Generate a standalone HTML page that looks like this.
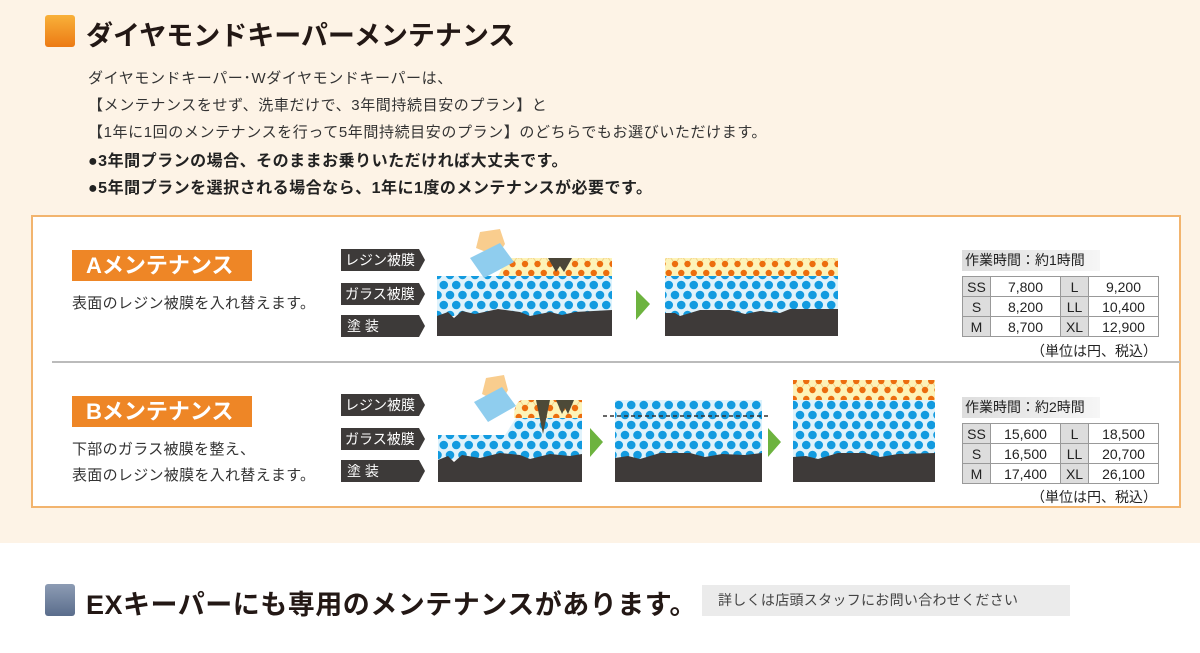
<!DOCTYPE html>
<html><head><meta charset="utf-8"><style>
*{margin:0;padding:0;box-sizing:border-box}
body{width:1200px;height:653px;overflow:hidden;background:#fff;font-family:"Liberation Sans","Noto Sans CJK JP",sans-serif;position:relative;color:#333}
.top{position:absolute;left:0;top:0;width:1200px;height:543px;background:#fdf3e6}
.abs{position:absolute;white-space:nowrap}
.sq{position:absolute;width:30px;height:32px;border-radius:3px}
.h1{font-size:27px;font-weight:bold;color:#231815}
.p{font-size:15px;color:#333;left:88px;letter-spacing:0.6px}
.b{font-weight:bold;color:#222;font-size:16px;letter-spacing:0.5px}
.box{position:absolute;left:31px;top:215px;width:1150px;height:293px;border:2px solid #f2b46e;background:#fff}
.tag{position:absolute;left:72px;width:180px;height:31px;background:#ee8626;color:#fff;font-weight:bold;font-size:22px;line-height:31px;padding-left:14px}
.d{font-size:15px;color:#333;left:72px;letter-spacing:0.3px}
table{position:absolute;left:962px;border-collapse:collapse;font-size:14px;color:#222}
td{border:1px solid #999;height:20px;padding:0;text-align:center;line-height:18px}
td.k{background:#ddd;width:28px}
td.v{width:70px}
.tt{position:absolute;left:962px;width:138px;height:21px;background:linear-gradient(90deg,#ddd,#f6f6f6);font-size:14px;line-height:21px;padding-left:3px;color:#222}
.note{font-size:14px;color:#222;right:43px}
</style></head><body>
<div class="top"></div>
<div class="sq" style="left:45px;top:15px;background:linear-gradient(#f8b13a,#ec7a14)"></div>
<div class="abs h1" style="left:86px;top:14px">ダイヤモンドキーパーメンテナンス</div>
<div class="abs p" style="top:67px">ダイヤモンドキーパー･Wダイヤモンドキーパーは、</div>
<div class="abs p" style="top:94px">【メンテナンスをせず、洗車だけで、3年間持続目安のプラン】と</div>
<div class="abs p" style="top:121px">【1年に1回のメンテナンスを行って5年間持続目安のプラン】のどちらでもお選びいただけます。</div>
<div class="abs p b" style="top:147px">●3年間プランの場合、そのままお乗りいただければ大丈夫です。</div>
<div class="abs p b" style="top:174px">●5年間プランを選択される場合なら、1年に1度のメンテナンスが必要です。</div>

<div class="box"></div>
<div style="position:absolute;left:52px;top:361px;width:1128px;height:2px;background:#bbb"></div>
<div class="tag" style="top:250px">Aメンテナンス</div>
<div class="abs d" style="top:292px">表面のレジン被膜を入れ替えます。</div>
<div class="tag" style="top:396px">Bメンテナンス</div>
<div class="abs d" style="top:438px">下部のガラス被膜を整え、</div>
<div class="abs d" style="top:464px">表面のレジン被膜を入れ替えます。</div>

<svg class="abs" style="left:0;top:0" width="1200" height="653">
<defs>
<pattern id="bd" width="12.5" height="20" patternUnits="userSpaceOnUse">
<rect width="12.5" height="20" fill="#dff2fb"/>
<circle cx="6.25" cy="5" r="4.3" fill="#129be0"/><circle cx="0" cy="15" r="4.3" fill="#129be0"/><circle cx="12.5" cy="15" r="4.3" fill="#129be0"/>
</pattern>
<pattern id="od" width="12.5" height="18" patternUnits="userSpaceOnUse" y="-1">
<rect width="12.5" height="18" fill="#fdf3b8"/>
<path d="M0 13 L6.25 4 L12.5 13" stroke="#f0d48a" fill="none" stroke-width="1"/>
<circle cx="6.25" cy="4" r="3.2" fill="#ec6d0e"/><circle cx="0" cy="13" r="3.2" fill="#ec6d0e"/><circle cx="12.5" cy="13" r="3.2" fill="#ec6d0e"/>
</pattern>
<g id="tags">
<path d="M0 0 H78 L84 11 L78 22 H0Z" fill="#3d3a39"/>
<path d="M0 34 H78 L84 45 L78 56 H0Z" fill="#3d3a39"/>
<path d="M0 66 H78 L84 77 L78 88 H0Z" fill="#3d3a39"/>
<g fill="#fff" font-size="14">
<text x="4" y="16">レジン被膜</text><text x="4" y="50">ガラス被膜</text><text x="6" y="82">塗 装</text></g>
</g>
</defs>
<use href="#tags" x="341" y="249"/>
<use href="#tags" x="341" y="394"/>

<path d="M507 258 H612 V276 H498Z" fill="url(#od)"/>
<path d="M548 258 H572 L564 272 L560 266 L556 272Z" fill="#4a4538"/>
<rect x="437" y="276" width="175" height="40" fill="url(#bd)"/>
<path d="M437 336 V316 L448 312 L454 318 L462 311 L475 314 L498 309 L520 312 L530 316 L550 312 L562 315 L575 312 L612 310 V336Z" fill="#3e3a39"/>
<path d="M480 232 L500 229 L505 244 L496 258 L486 252 L476 248Z" fill="#f9cd8e"/>
<path d="M470 258 L500 243 L514 262 L484 278Z" fill="#8fcdee"/>
<path d="M636 290 L650 304 L636 320Z" fill="#6db33f"/>
<rect x="665" y="258" width="173" height="18" fill="url(#od)"/>
<rect x="665" y="276" width="173" height="40" fill="url(#bd)"/>
<path d="M665 336 V313 L675 313 L680 316 L700 310 L730 310 L745 314 L760 311 L780 313 L790 309 L838 309 V336Z" fill="#3e3a39"/>

<path d="M522 400 H582 V418 H514 Q514 402 522 400Z" fill="url(#od)"/>
<path d="M438 435 H505 L516 418 H582 V460 H438Z" fill="url(#bd)"/>
<path d="M536 400 H550 L543 434Z M556 400 H574 L568 414 L565 408 L562 414Z" fill="#4d4a38"/>
<path d="M438 482 V460 L448 456 L454 462 L462 455 L480 458 L500 453 L520 455 L530 459 L550 454 L570 456 L582 454 V482Z" fill="#3e3a39"/>
<path d="M486 378 L504 375 L508 390 L500 404 L490 398 L482 394Z" fill="#f9cd8e"/>
<path d="M474 402 L502 387 L516 406 L488 422Z" fill="#8fcdee"/>
<path d="M590 428 L603 442 L590 457Z" fill="#6db33f"/>
<path d="M615 400 H762 V460 H615Z" fill="url(#bd)"/>
<path d="M615 482 V458 L628 456 L640 459 L660 453 L690 453 L705 457 L722 454 L745 455 L762 453 V482Z" fill="#3e3a39"/>
<line x1="603" y1="416" x2="770" y2="416" stroke="#333" stroke-width="1.5" stroke-dasharray="4 3"/>
<path d="M768 428 L781 442 L768 457Z" fill="#6db33f"/>
<rect x="793" y="380" width="142" height="20" fill="url(#od)"/>
<rect x="793" y="400" width="142" height="60" fill="url(#bd)"/>
<path d="M793 482 V457 L806 456 L818 459 L838 453 L865 453 L880 457 L898 454 L935 453 V482Z" fill="#3e3a39"/>
</svg>

<div class="tt" style="top:250px">作業時間：約1時間</div>
<table style="top:276px"><tr><td class="k">SS</td><td class="v">7,800</td><td class="k">L</td><td class="v">9,200</td></tr>
<tr><td class="k">S</td><td class="v">8,200</td><td class="k">LL</td><td class="v">10,400</td></tr>
<tr><td class="k">M</td><td class="v">8,700</td><td class="k">XL</td><td class="v">12,900</td></tr></table>
<div class="abs note" style="top:341px">（単位は円、税込）</div>
<div class="tt" style="top:397px">作業時間：約2時間</div>
<table style="top:423px"><tr><td class="k">SS</td><td class="v">15,600</td><td class="k">L</td><td class="v">18,500</td></tr>
<tr><td class="k">S</td><td class="v">16,500</td><td class="k">LL</td><td class="v">20,700</td></tr>
<tr><td class="k">M</td><td class="v">17,400</td><td class="k">XL</td><td class="v">26,100</td></tr></table>
<div class="abs note" style="top:487px">（単位は円、税込）</div>

<div class="sq" style="left:45px;top:584px;background:linear-gradient(#8d9cb4,#5a6d8c)"></div>
<div class="abs h1" style="left:86px;top:583px;letter-spacing:0.5px">EXキーパーにも専用のメンテナンスがあります。</div>
<div class="abs" style="left:702px;top:585px;width:368px;height:31px;background:#ebebeb;font-size:14px;line-height:31px;padding-left:16px;color:#444;letter-spacing:0.3px">詳しくは店頭スタッフにお問い合わせください</div>
</body></html>
